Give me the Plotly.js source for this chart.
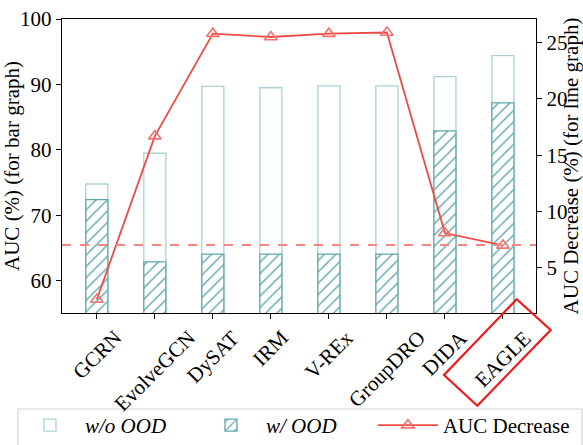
<!DOCTYPE html>
<html>
<head>
<meta charset="utf-8">
<script src="https://cdn.plot.ly/plotly-3.0.1.min.js"></script>
<style>html,body{margin:0;padding:0;background:#fff;}#chart{width:583px;height:445px;}</style>
</head>
<body>
<div id="chart"></div>
<script>
const categories = ["GCRN", "EvolveGCN", "DySAT", "IRM", "V-REx", "GroupDRO", "DIDA", "EAGLE"];
const aucWithoutOOD = [74.8, 79.5, 89.7, 89.5, 89.8, 89.8, 91.2, 94.4];
const aucWithOOD = [72.4, 62.9, 64.1, 64.1, 64.1, 64.1, 82.9, 87.2];
const aucDecrease = [2.2, 16.7, 25.8, 25.5, 25.8, 25.9, 8.1, 7.0];
const referenceLine = 65.5;
const leftTicks = [60, 70, 80, 90, 100];
const rightTicks = [5, 10, 15, 20, 25];

const FONT = "Liberation Serif";
const lightTeal = "#a9d3d7";
const teal = "#5ea8ac";
const red = "#ee4b45";

const traces = [
  {
    type: "bar", name: "<i>w/o OOD</i>", x: categories, y: aucWithoutOOD, width: 0.38,
    marker: {color: "rgba(255,255,255,0)", line: {color: lightTeal, width: 1.3}},
    yaxis: "y", legend: "legend"
  },
  {
    type: "bar", name: "<i>w/ OOD</i>", x: categories, y: aucWithOOD, width: 0.38,
    marker: {color: "#ffffff", line: {color: teal, width: 1.3},
      pattern: {shape: "/", fgcolor: teal, bgcolor: "#ffffff", size: 8, solidity: 0.18}},
    yaxis: "y", legend: "legend"
  },
  {
    type: "scatter", mode: "lines+markers", name: "AUC Decrease", x: categories, y: aucDecrease,
    line: {color: red, width: 1.8},
    marker: {symbol: "triangle-up-open", size: 11, color: "#f2736d", line: {width: 1.6}},
    yaxis: "y2", legend: "legend2"
  }
];

const annotations = categories.map(c => ({
  x: c, xref: "x", y: 0, yref: "paper", yshift: -10,
  text: c, textangle: -45, showarrow: false,
  xanchor: "center", yanchor: "top",
  font: {family: FONT, size: 21, color: "#000"}
}));

const legendCommon = {
  orientation: "h", xanchor: "left", y: -0.313, yanchor: "top",
  borderwidth: 0, bgcolor: "rgba(0,0,0,0)",
  font: {family: FONT, size: 21, color: "#000"},
  itemwidth: 60, traceorder: "normal"
};

const layout = {
  width: 583, height: 445,
  margin: {l: 62, r: 47, t: 19, b: 132, autoexpand: false},
  paper_bgcolor: "#fff", plot_bgcolor: "#fff",
  barmode: "overlay",
  showlegend: true,
  font: {family: FONT, size: 21, color: "#000"},
  xaxis: {
    type: "category", range: [-0.6, 7.57],
    showline: true, linecolor: "#000", linewidth: 1.3, mirror: true,
    ticks: "outside", ticklen: 5, tickcolor: "#000", showticklabels: false,
    showgrid: false, zeroline: false, fixedrange: true, automargin: false
  },
  yaxis: {
    range: [55.1, 100], tickvals: leftTicks, ticktext: leftTicks.map(String),
    showline: true, linecolor: "#000", linewidth: 1.3,
    ticks: "outside", ticklen: 5, tickcolor: "#000",
    showgrid: false, zeroline: false, automargin: false,
    tickfont: {family: FONT, size: 21},
    title: {text: "AUC (%) (for bar graph)", font: {family: FONT, size: 21}, standoff: 13}
  },
  yaxis2: {
    range: [1.0, 27.1], tickvals: rightTicks, ticktext: rightTicks.map(String),
    overlaying: "y", side: "right",
    showline: true, linecolor: "#000", linewidth: 1.3,
    ticks: "outside", ticklen: 5, tickcolor: "#000",
    showgrid: false, zeroline: false, automargin: false,
    tickfont: {family: FONT, size: 21},
    title: {text: "AUC Decrease (%) (for line graph)", font: {family: FONT, size: 21}, standoff: 4}
  },
  legend: Object.assign({}, legendCommon, {x: -0.0992, entrywidth: 106, entrywidthmode: "pixels"}),
  legend2: Object.assign({}, legendCommon, {x: 0.656}),
  shapes: [
    {type: "line", xref: "paper", x0: 0, x1: 1, yref: "y", y0: referenceLine, y1: referenceLine,
     line: {color: "#f5867f", width: 2, dash: "dash"}, layer: "above"},
    {type: "path", xref: "paper", yref: "paper",
     path: "M0.9593,0.0466 L1.031,-0.0578 L0.8762,-0.3153 L0.8059,-0.2109 Z",
     line: {color: "#f01818", width: 2.2}, fillcolor: "rgba(0,0,0,0)", layer: "above"},
    {type: "rect", xref: "paper", yref: "paper", x0: -0.0928, x1: 1.097, y0: -0.3265, y1: -0.56,
     line: {color: "#d6d6d6", width: 1.2}, fillcolor: "rgba(0,0,0,0)", layer: "below"}
  ],
  annotations: annotations
};

Plotly.newPlot("chart", traces, layout, {staticPlot: true, displayModeBar: false});
</script>
</body>
</html>
